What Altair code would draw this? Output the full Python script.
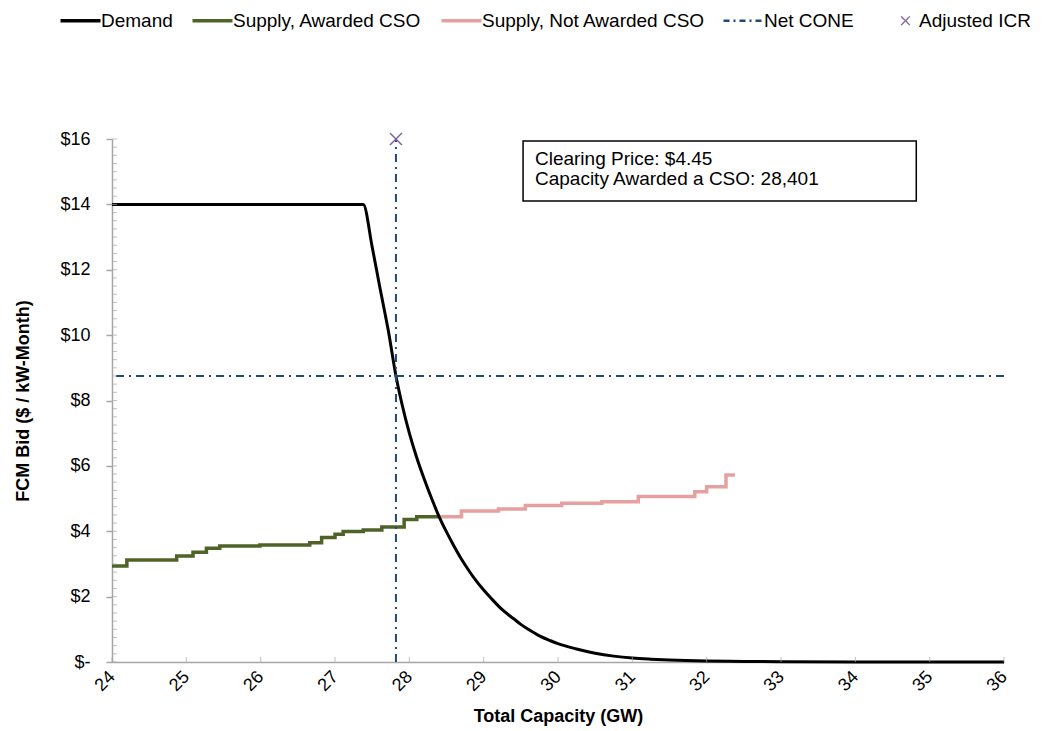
import altair as alt
import pandas as pd

FONT = "Liberation Sans"
GRAY = "#A6A6A6"

series_names = ["Demand", "Supply, Awarded CSO", "Supply, Not Awarded CSO", "Net CONE", "Adjusted ICR"]
series_colors = ["#000000", "#4F6228", "#E6A0A0", "#1F497D", "#8064A2"]

# Demand curve (GW, $/kW-month)
demand_gw = [24.0, 27.38, 27.5, 27.6, 27.72, 27.82, 27.9, 28.0, 28.1, 28.2, 28.3, 28.4, 28.5,
             28.6, 28.7, 28.8, 28.9, 29.0, 29.1, 29.25, 29.4, 29.5, 29.6, 29.75, 29.9, 30.0,
             30.25, 30.5, 30.75, 31.0, 31.25, 31.5, 32.0, 32.5, 33.0, 34.0, 36.0]
demand_price = [14.0, 14.0, 12.7, 11.5, 10.1, 8.75, 7.9, 7.0, 6.25, 5.6, 5.0, 4.45, 3.98,
                3.55, 3.15, 2.8, 2.48, 2.2, 1.95, 1.6, 1.33, 1.15, 1.0, 0.8, 0.65, 0.56,
                0.4, 0.27, 0.18, 0.12, 0.085, 0.06, 0.03, 0.018, 0.01, 0.0, 0.0]

# Supply, awarded CSO (step curve)
awarded_gw = [24.0, 24.2, 24.87, 25.09, 25.27, 25.45, 25.99, 26.66, 26.82, 27.0, 27.11,
              27.38, 27.63, 27.93, 28.1, 28.39]
awarded_price = [2.94, 3.12, 3.24, 3.36, 3.48, 3.55, 3.58, 3.65, 3.81, 3.91, 3.99,
                 4.04, 4.13, 4.36, 4.44, 4.44]

# Supply, not awarded CSO (step curve)
not_awarded_gw = [28.39, 28.70, 29.20, 29.56, 30.05, 30.59, 31.08, 31.84, 32.0, 32.26, 32.38]
not_awarded_price = [4.44, 4.62, 4.68, 4.79, 4.86, 4.90, 5.06, 5.21, 5.36, 5.72, 5.72]

net_cone = 8.75
adjusted_icr = 27.82
icr_marker_price = 16.0

y_major = [0, 2, 4, 6, 8, 10, 12, 14, 16]
y_minor = [i * 0.25 for i in range(0, 65)]
x_major = list(range(24, 37))

box_x = [29.53, 34.82]
box_y = [15.94, 14.10]
box_text = ["Clearing Price: $4.45", "Capacity Awarded a CSO: 28,401"]
box_text_x = [29.69, 29.69]
box_text_y = [15.20, 14.59]

XS = alt.Scale(domain=[24, 36], nice=False, zero=False)
YS = alt.Scale(domain=[0, 16], nice=False)

color = alt.Color(
    "series:N",
    scale=alt.Scale(domain=series_names, range=series_colors),
    legend=alt.Legend(
        orient="none", legendX=-41, legendY=-128, direction="horizontal", columns=5,
        title=None, symbolSize=1600,
        symbolType=alt.ExprRef("datum.value === 'Adjusted ICR' ? 'M1.28,-0.22L1.72,0.22M1.28,0.22L1.72,-0.22' : 'stroke'"),
        symbolDash=alt.ExprRef("datum.value === 'Net CONE' ? [6,4,2,4] : [1,0]"),
        symbolStrokeWidth=alt.ExprRef("datum.value === 'Adjusted ICR' ? 1.3 : (datum.value === 'Net CONE' ? 2.5 : 3.5)"),
        labelOffset=alt.ExprRef("datum.value === 'Adjusted ICR' ? 34 : 11"),
        labelFontSize=19, labelFont=FONT, labelColor="#000000",
        columnPadding=12, padding=0, labelLimit=400,
    ),
)

xaxis = alt.Axis(values=x_major, format="d", title="Total Capacity (GW)", grid=False, ticks=False,
                 tickSize=0, labelAngle=-45, labelAlign="right", labelBaseline="middle",
                 labelPadding=12, labelFontSize=18, labelFont=FONT, labelColor="#000000",
                 titleFontSize=18, titleFont=FONT, titleFontWeight="bold", titleColor="#000000",
                 titlePadding=13, domainColor=GRAY, domainWidth=1.5)
yaxis = alt.Axis(values=y_major, title="FCM Bid ($ / kW-Month)", grid=False, tickSize=6,
                 tickColor=GRAY, tickWidth=1.5, labelPadding=16,
                 labelExpr="datum.value == 0 ? '$-' : '$' + datum.value",
                 labelFontSize=18, labelFont=FONT, labelColor="#000000",
                 titleFontSize=18, titleFont=FONT, titleFontWeight="bold", titleColor="#000000",
                 titlePadding=27, domainColor=GRAY, domainWidth=1.5)

df_demand = pd.DataFrame({"x": demand_gw, "y": demand_price, "series": "Demand"})
df_aw = pd.DataFrame({"x": awarded_gw, "y": awarded_price, "series": "Supply, Awarded CSO"})
df_na = pd.DataFrame({"x": not_awarded_gw, "y": not_awarded_price, "series": "Supply, Not Awarded CSO"})
df_cone_h = pd.DataFrame({"y": [net_cone], "series": ["Net CONE"]})
df_cone_v = pd.DataFrame({"x": [adjusted_icr], "y": [0.0], "y2": [icr_marker_price], "series": ["Net CONE"]})
df_icr = pd.DataFrame({"x": [adjusted_icr], "y": [icr_marker_price], "series": ["Adjusted ICR"]})
df_minor = pd.DataFrame({"y": y_minor})
df_xticks = pd.DataFrame({"x": x_major})
df_box = pd.DataFrame({"x": [box_x[0]], "x2": [box_x[1]], "y": [box_y[0]], "y2": [box_y[1]]})
df_text = pd.DataFrame({"x": box_text_x, "y": box_text_y, "t": box_text})

base_x = alt.X("x:Q", scale=XS, axis=xaxis)
base_y = alt.Y("y:Q", scale=YS, axis=yaxis)

aw = alt.Chart(df_aw).mark_line(interpolate="step-after", strokeWidth=3.5).encode(
    x=base_x, y=base_y, color=color)
na = alt.Chart(df_na).mark_line(interpolate="step-after", strokeWidth=3.5).encode(
    x="x:Q", y="y:Q", color=color)
dem = alt.Chart(df_demand).mark_line(strokeWidth=3, interpolate="monotone").encode(
    x="x:Q", y="y:Q", color=color)
cone_h = alt.Chart(df_cone_h).mark_rule(strokeWidth=2, strokeDash=[8, 5, 2, 5]).encode(
    y="y:Q", color=color)
cone_v = alt.Chart(df_cone_v).mark_rule(strokeWidth=2, strokeDash=[8, 5, 2, 5]).encode(
    x="x:Q", y="y:Q", y2="y2:Q", color=color)
icr = alt.Chart(df_icr).mark_point(shape="M-1,-1L1,1M-1,1L1,-1", size=144, strokeWidth=1.5,
                                   filled=False, opacity=1).encode(x="x:Q", y="y:Q", color=color)
minor = alt.Chart(df_minor).mark_tick(orient="horizontal", size=5, thickness=1, color=GRAY,
                                      xOffset=2.5).encode(x=alt.datum(24), y="y:Q")
xt = alt.Chart(df_xticks).mark_tick(orient="vertical", size=5, thickness=1, color=GRAY,
                                    yOffset=-2.5).encode(x="x:Q", y=alt.datum(0))
box = alt.Chart(df_box).mark_rect(fill="white", stroke="black", strokeWidth=1.5).encode(
    x="x:Q", x2="x2:Q", y="y:Q", y2="y2:Q")
txt = alt.Chart(df_text).mark_text(align="left", baseline="alphabetic", fontSize=19, font=FONT,
                                   color="black").encode(x="x:Q", y="y:Q", text="t:N")

chart = alt.layer(aw, na, dem, cone_h, cone_v, icr, minor, xt, box, txt).properties(
    width=892, height=523, autosize="none",
    padding={"left": 104, "top": 131, "right": 32, "bottom": 75},
).configure_view(stroke=None)

chart.save("out.html", embed_options={"renderer": "svg", "actions": False})
